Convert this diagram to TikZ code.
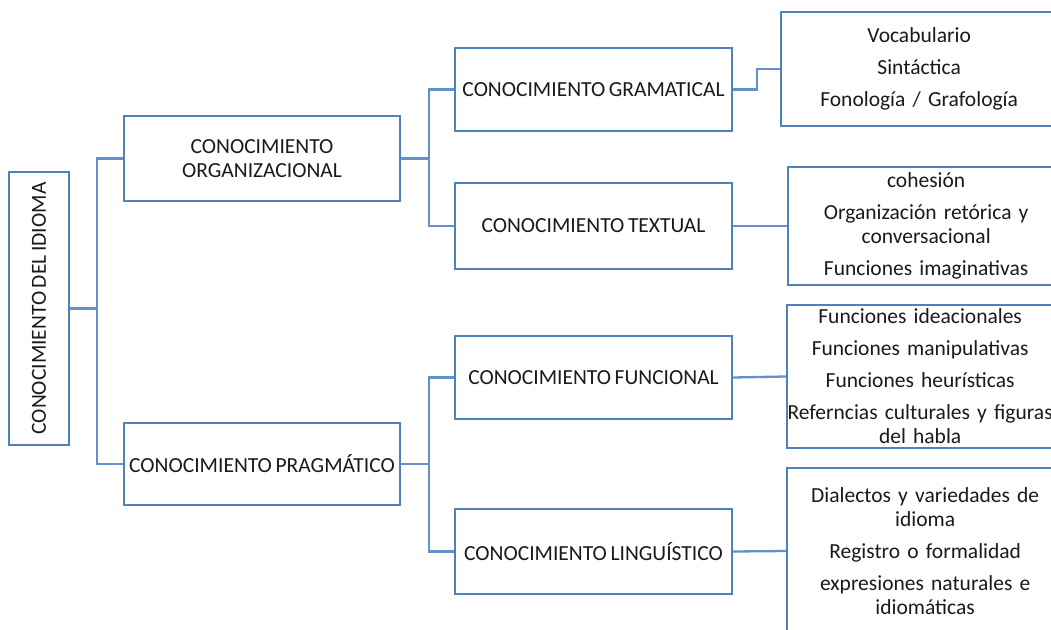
\documentclass[tikz,border=0pt]{standalone}
\usepackage{fontspec}
\setmainfont{Carlito}[WordSpace=0.75]
\definecolor{boxblue}{HTML}{4F81BD}
\definecolor{linkblue}{HTML}{6391CA}
\definecolor{ink}{HTML}{1A1A1A}
\begin{document}
\begin{tikzpicture}[x=1pt,y=-1pt,
  every node/.style={font=\fontsize{21.5}{24}\selectfont, text=ink},
  card/.style={draw=boxblue, line width=2.3pt, fill=white, align=center, inner sep=2pt},
  midcard/.style={card, minimum width=276pt, minimum height=84pt},
  listcard/.style={card, anchor=west, text width=272pt},
  link/.style={draw=linkblue, line width=2.3pt}]
\useasboundingbox (0,0) rectangle (1051,629);
\clip (0,0) rectangle (1051,629);

% root
\node[card, minimum width=60pt, minimum height=273pt] (root) at (39,308.5) {};
\node[rotate=90] at (root.center) {CONOCIMIENTO DEL IDIOMA};

% second level
\node[midcard, minimum height=85pt] (org) at (262,158.5) {CONOCIMIENTO\\ORGANIZACIONAL};
\node[midcard, minimum height=82pt] (prag) at (262,464) {CONOCIMIENTO PRAGMÁTICO};

% third level
\node[midcard, minimum width=277pt, minimum height=83pt] (gram) at (593.5,89.5) {CONOCIMIENTO GRAMATICAL};
\node[midcard, minimum width=277pt, minimum height=86pt] (text) at (593.5,226) {CONOCIMIENTO TEXTUAL};
\node[midcard, minimum width=277pt, minimum height=83pt] (func) at (593.5,377.5) {CONOCIMIENTO FUNCIONAL};
\node[midcard, minimum width=277pt, minimum height=85pt] (ling) at (593.5,551.5) {CONOCIMIENTO LINGUÍSTICO};

% detail lists (open to the right)
\node[listcard, minimum height=114pt] (gramlist) at (780,69) {Vocabulario\\[8pt]Sintáctica\\[8pt]Fonología / Grafología};
\node[listcard, minimum height=118pt] (textlist) at (787,226) {cohesión\\[8pt]Organización retórica y\\conversacional\\[8pt]Funciones imaginativas};
\node[listcard, minimum height=143pt, text width=262pt] (funclist) at (786,376.5) {Funciones ideacionales\\[8pt]Funciones manipulativas\\[8pt]Funciones heurísticas\\[8pt]\makebox[262pt]{Referncias culturales y figuras}\\del habla};
\node[listcard, minimum height=166pt] (linglist) at (786,551) {Dialectos y variedades de\\idioma\\[8pt]Registro o formalidad\\[8pt]expresiones naturales e\\idiomáticas};

% connectors
\draw[link] (root.east) -- ++(27,0) |- (org.west);
\draw[link] (root.east) -- ++(27,0) |- (prag.west);
\draw[link] (org.east) -- ++(28,0) |- (gram.west);
\draw[link] (org.east) -- ++(28,0) |- (text.west);
\draw[link] (prag.east) -- ++(28,0) |- (func.west);
\draw[link] (prag.east) -- ++(28,0) |- (ling.west);
\draw[link] (gram.east) -- ++(24,0) |- (gramlist.west);
\draw[link] (text.east) -- (textlist.west);
\draw[link] (func.east) -- (funclist.west);
\draw[link] (ling.east) -- (linglist.west);
\end{tikzpicture}
\end{document}
